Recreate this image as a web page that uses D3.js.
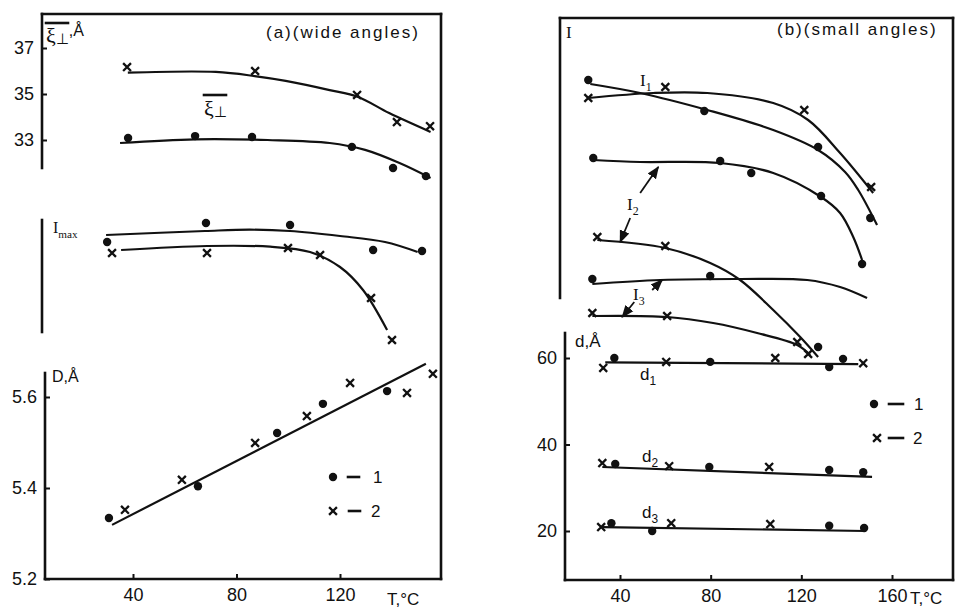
<!DOCTYPE html>
<html>
<head>
<meta charset="utf-8">
<script src="https://cdn.jsdelivr.net/npm/d3@7"></script>
<style>
  body { margin: 0; background: #fff; }
  svg { display: block; font-family: "Liberation Sans", Arial, sans-serif; }
  .axis text { font-size: 18px; fill: #111; }
  .axis line { stroke: #111; stroke-width: 2; }
  .lbl { font-size: 17px; fill: #111; letter-spacing: 2px; }
  .ser { font-family: "Liberation Serif", serif; fill: #111; }
  .sans { fill: #111; }
</style>
</head>
<body>
<div id="chart"></div>
<script>
// ---------- panel (a), wide angles ----------
// [T, xi_perp (A)]
var xiCross  = [[37.7,36.17],[87.2,36.0],[126.6,34.96],[142,33.78],[154.8,33.6]];
var xiDot    = [[38.1,33.09],[64,33.17],[86,33.13],[124.6,32.7],[140.5,31.78],[153.2,31.43]];
var xiCrossFit = [[38,35.93],[72,35.96],[87,35.78],[99,35.57],[116,35.17],[127,34.87],[139,34.17],[155,33.35]];
var xiDotFit   = [[35,32.87],[64,33.03],[92,33.0],[116,32.87],[129.7,32.57],[143,32.0],[155,31.35]];
// [T, I_max (arb. units)]
var imDot    = [[30,108],[68.2,127],[100.7,125],[132.8,100],[151.7,99]];
var imCross  = [[31.9,97],[68.6,97],[99.9,102],[112.3,95],[132,52],[140.1,10]];
var imDotFit   = [[29.6,115],[67.8,119],[85.2,120.3],[100.7,119],[120,114],[137.4,108],[150,98]];
var imCrossFit = [[35.4,100],[68.6,104],[93,103.3],[108.4,98],[120,83],[128.9,60],[138.2,20]];
// [T, D (A)]
var dDot     = [[30.7,5.334],[65.1,5.404],[95.7,5.521],[113.4,5.585],[138.2,5.613]];
var dCross   = [[36.9,5.352],[58.9,5.418],[87.2,5.499],[107.2,5.558],[123.9,5.631],[145.9,5.609],[155.9,5.651]];
var dFit     = [[31.9,5.319],[153.2,5.673]];
var ticksA   = [40,80,120];
var ticksXi  = [33,35,37];
var ticksD   = [5.2,5.4,5.6];

// ---------- panel (b), small angles ----------
// [T, I (arb. units)]
var i1Dot    = [[26,280],[77.2,249],[127.4,213],[150.4,142]];
var i1Cross  = [[26,262],[60,273],[121.3,250],[150.8,173]];
var i1DotFit   = [[26.9,276],[48.9,267],[78.5,250],[107.6,230],[127.4,210],[139.3,188],[145.1,170],[153.4,135]];
var i1CrossFit = [[26,262],[54.7,267],[78.5,267],[107.6,257],[123,240],[137.1,207],[151.7,167]];
var i2Dot    = [[28.2,202],[84.2,199],[97.9,187],[128.7,164],[146.8,96]];
var i2Cross  = [[30,123],[60,114]];
var i2DotFit   = [[28.2,200],[48.9,198],[84.2,197],[107.6,187],[128.7,163],[137.1,147],[142.9,123],[146.8,100]];
var i2CrossFit = [[30,120],[60,112],[79.8,97],[93,80],[107.6,50],[119.5,23],[127.4,3]];
var i3Dot    = [[27.8,81],[79.8,84],[127.4,13]];
var i3Cross  = [[27.8,47],[60.8,44],[118.2,18],[123,6]];
var i3DotFit   = [[27.8,76],[57.8,80],[93,81],[122.6,80],[137.1,73],[149,62]];
var i3CrossFit = [[27.8,44],[60.8,43],[81.1,37],[100.5,27],[118.2,15],[123.9,5]];
// [T, d (A)]
var d1Dot    = [[37.5,60.0],[79.8,59.1],[132.3,57.9],[138.4,59.8]];
var d1Cross  = [[32.6,57.7],[60.4,59.1],[108.5,60.0],[147.3,58.8]];
var d1Fit    = [[33.5,59.0],[145.1,58.6]];
var d2Dot    = [[37.9,35.5],[79.4,34.8],[132.3,34.1],[147.3,33.6]];
var d2Cross  = [[32.2,35.7],[61.7,35.0],[105.8,34.8]];
var d2Fit    = [[32.2,34.8],[151.2,32.5]];
var d3Dot    = [[36.2,21.8],[54.2,20.0],[132.3,21.2],[147.7,20.7]];
var d3Cross  = [[31.7,20.9],[62.6,21.8],[106.3,21.6]];
var d3Fit    = [[32.2,20.9],[148.1,20.0]];
var ticksB   = [40,80,120,160];
var ticksd   = [20,40,60];
// arrows: [T0, I0, T1, I1]
var arrowsI  = [[48.9,167,56.9,193],[44.5,142,40.1,118],[54.2,70,58.6,80],[46.3,58,41,43]];

var width = 957, height = 609;
var svg = d3.select("#chart").append("svg").attr("width", width).attr("height", height);

svg.append("defs").append("marker").attr("id", "ah")
    .attr("viewBox", "0 -5 10 10").attr("refX", 9).attr("refY", 0)
    .attr("markerWidth", 7).attr("markerHeight", 7).attr("orient", "auto")
  .append("path").attr("d", "M0,-4L10,0L0,4Z").attr("fill", "#111");

// scales
var xA  = d3.scaleLinear().domain([40,120]).range([133,340]);
var yXi = d3.scaleLinear().domain([33,37]).range([140,48]);
var yM  = d3.scaleLinear().domain([0,130]).range([350,220]);
var yD  = d3.scaleLinear().domain([5.2,5.6]).range([579,397]);
var xB  = d3.scaleLinear().domain([40,160]).range([620,892]);
var yI  = d3.scaleLinear().domain([0,340]).range([360,20]);
var yd  = d3.scaleLinear().domain([20,60]).range([531,358]);

function dots(pts, x, y) {
  svg.append("g").selectAll("circle").data(pts).enter().append("circle")
    .attr("cx", function(d) { return x(d[0]); })
    .attr("cy", function(d) { return y(d[1]); })
    .attr("r", 4.2).attr("fill", "#111");
}
function crosses(pts, x, y) {
  svg.append("g").selectAll("path").data(pts).enter().append("path")
    .attr("transform", function(d) { return "translate(" + x(d[0]) + "," + y(d[1]) + ")"; })
    .attr("d", d3.symbol(d3.symbolTimes, 42))
    .attr("fill", "none").attr("stroke", "#111").attr("stroke-width", 2.3);
}
function fit(pts, x, y, straight) {
  var line = d3.line().x(function(d) { return x(d[0]); }).y(function(d) { return y(d[1]); })
      .curve(straight ? d3.curveLinear : d3.curveCatmullRom.alpha(0.5));
  svg.append("path").datum(pts).attr("d", line)
    .attr("fill", "none").attr("stroke", "#111").attr("stroke-width", 2.2);
}
function seg(x1, y1, x2, y2) {
  svg.append("line").attr("x1", x1).attr("y1", y1).attr("x2", x2).attr("y2", y2)
    .attr("stroke", "#111").attr("stroke-width", 2.6).attr("stroke-linecap", "square");
}
function xAxis(x, ticks, y0) {
  var g = svg.append("g").attr("class", "axis").attr("transform", "translate(0," + y0 + ")")
    .call(d3.axisBottom(x).tickValues(ticks).tickFormat(d3.format("d")).tickSize(-5).tickPadding(9));
  g.select(".domain").remove();
}
function yAxis(y, ticks, x0, fmt) {
  var g = svg.append("g").attr("class", "axis").attr("transform", "translate(" + x0 + ",0)")
    .call(d3.axisLeft(y).tickValues(ticks).tickFormat(d3.format(fmt)).tickSize(-5).tickPadding(8));
  g.select(".domain").remove();
}
function sub(x, y, main, s, size, cls) {
  var t = svg.append("text").attr("x", x).attr("y", y).attr("class", cls || "ser")
    .style("font-size", size + "px").text(main);
  t.append("tspan").attr("dy", size * 0.3).style("font-size", (size * 0.7) + "px").text(s);
  return t;
}

// ---- frame (a) ----
seg(42, 14, 441, 14); seg(441, 14, 441, 579); seg(45, 579, 441, 579);
seg(42, 14, 42, 168); seg(42, 220, 42, 332); seg(45, 373, 45, 579);
xAxis(xA, ticksA, 579);
yAxis(yXi, ticksXi, 42, "d");
yAxis(yD, ticksD, 45, ".1f");

// ---- frame (b) ----
seg(560, 18, 953, 18); seg(953, 18, 953, 580); seg(565, 580, 953, 580);
seg(560, 18, 560, 298); seg(565, 333, 565, 580);
xAxis(xB, ticksB, 580);
yAxis(yd, ticksd, 565, "d");

// ---- data (a) ----
fit(xiCrossFit, xA, yXi); fit(xiDotFit, xA, yXi);
crosses(xiCross, xA, yXi); dots(xiDot, xA, yXi);
fit(imDotFit, xA, yM); fit(imCrossFit, xA, yM);
dots(imDot, xA, yM); crosses(imCross, xA, yM);
fit(dFit, xA, yD, true);
dots(dDot, xA, yD); crosses(dCross, xA, yD);

// ---- data (b) ----
[[i1DotFit,i1Dot,i1CrossFit,i1Cross],[i2DotFit,i2Dot,i2CrossFit,i2Cross],[i3DotFit,i3Dot,i3CrossFit,i3Cross]]
  .forEach(function(s) {
    fit(s[0], xB, yI); fit(s[2], xB, yI);
    dots(s[1], xB, yI); crosses(s[3], xB, yI);
  });
[[d1Fit,d1Dot,d1Cross],[d2Fit,d2Dot,d2Cross],[d3Fit,d3Dot,d3Cross]].forEach(function(s) {
  fit(s[0], xB, yd, true); dots(s[1], xB, yd); crosses(s[2], xB, yd);
});
svg.append("g").selectAll("line").data(arrowsI).enter().append("line")
  .attr("x1", function(d) { return xB(d[0]); }).attr("y1", function(d) { return yI(d[1]); })
  .attr("x2", function(d) { return xB(d[2]); }).attr("y2", function(d) { return yI(d[3]); })
  .attr("stroke", "#111").attr("stroke-width", 1.8).attr("marker-end", "url(#ah)");

// ---- labels (a) ----
svg.append("text").attr("class", "lbl").attr("x", 266).attr("y", 38).text("(a)(wide angles)");
var xl = svg.append("text").attr("x", 46).attr("y", 43).attr("class", "ser").style("font-size", "22px").text("ξ");
xl.append("tspan").attr("dy", 1).style("font-size", "15px").text("⊥");
xl.append("tspan").attr("dy", -8).style("font-family", "Liberation Sans").style("font-size", "16px").text(",Å");
seg(46, 23, 68, 23);
var xl2 = svg.append("text").attr("x", 204).attr("y", 116).attr("class", "ser").style("font-size", "22px").text("ξ");
xl2.append("tspan").attr("dy", 1).style("font-size", "15px").text("⊥");
seg(204, 95, 226, 95);
sub(53, 233, "I", "max", 16);
svg.append("text").attr("class", "sans").attr("x", 52).attr("y", 382).style("font-size", "16px").text("D,Å");
svg.append("text").attr("class", "sans").attr("x", 387).attr("y", 605).style("font-size", "17px").text("T,°C");

// legend (a)
svg.append("circle").attr("cx", 333).attr("cy", 477).attr("r", 4.2).attr("fill", "#111");
seg(348, 477, 359, 477);
svg.append("text").attr("class", "sans").attr("x", 373).attr("y", 483).style("font-size", "17px").text("1");
svg.append("path").attr("transform", "translate(333,511)").attr("d", d3.symbol(d3.symbolTimes, 42))
  .attr("stroke", "#111").attr("stroke-width", 2.3);
seg(349, 511, 360, 511);
svg.append("text").attr("class", "sans").attr("x", 371).attr("y", 517).style("font-size", "17px").text("2");

// ---- labels (b) ----
svg.append("text").attr("class", "lbl").attr("x", 777).attr("y", 35).text("(b)(small angles)");
svg.append("text").attr("x", 566).attr("y", 38).attr("class", "ser").style("font-size", "17px").text("I");
sub(640, 86, "I", "1", 17);
sub(627, 210, "I", "2", 17);
sub(633, 300, "I", "3", 17);
svg.append("text").attr("class", "sans").attr("x", 575).attr("y", 347).style("font-size", "17px").text("d,Å");
sub(640, 380, "d", "1", 17, "sans");
sub(642, 462, "d", "2", 17, "sans");
sub(642, 518, "d", "3", 17, "sans");
svg.append("text").attr("class", "sans").attr("x", 910).attr("y", 604).style("font-size", "17px").text("T,°C");

// legend (b)
svg.append("circle").attr("cx", 874).attr("cy", 404).attr("r", 4.2).attr("fill", "#111");
seg(889, 404, 903, 404);
svg.append("text").attr("class", "sans").attr("x", 914).attr("y", 410).style("font-size", "17px").text("1");
svg.append("path").attr("transform", "translate(877,438)").attr("d", d3.symbol(d3.symbolTimes, 42))
  .attr("stroke", "#111").attr("stroke-width", 2.3);
seg(889, 438, 903, 438);
svg.append("text").attr("class", "sans").attr("x", 913).attr("y", 444).style("font-size", "17px").text("2");
</script>
</body>
</html>
